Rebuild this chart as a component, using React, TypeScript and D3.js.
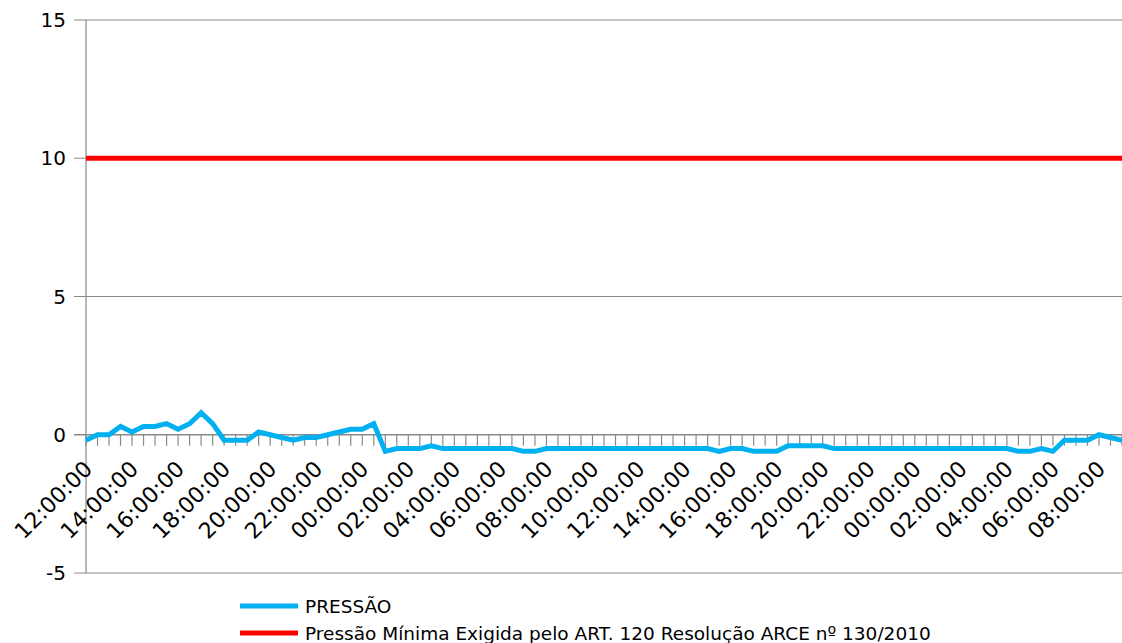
import React, { useEffect, useRef } from 'react'
import * as d3 from 'd3'

// pressure readings, one every 30 minutes starting at 12:00:00
const pressao = [
  -0.2, 0, 0, 0.3, 0.1, 0.3, 0.3, 0.4, 0.2, 0.4,
  0.8, 0.4, -0.2, -0.2, -0.2, 0.1, 0, -0.1, -0.2, -0.1,
  -0.1, 0, 0.1, 0.2, 0.2, 0.4, -0.6, -0.5, -0.5, -0.5,
  -0.4, -0.5, -0.5, -0.5, -0.5, -0.5, -0.5, -0.5, -0.6, -0.6,
  -0.5, -0.5, -0.5, -0.5, -0.5, -0.5, -0.5, -0.5, -0.5, -0.5,
  -0.5, -0.5, -0.5, -0.5, -0.5, -0.6, -0.5, -0.5, -0.6, -0.6,
  -0.6, -0.4, -0.4, -0.4, -0.4, -0.5, -0.5, -0.5, -0.5, -0.5,
  -0.5, -0.5, -0.5, -0.5, -0.5, -0.5, -0.5, -0.5, -0.5, -0.5,
  -0.5, -0.6, -0.6, -0.5, -0.6, -0.2, -0.2, -0.2, 0, -0.1,
  -0.2,
]

// minimum required pressure (constant reference line)
const pressaoMinima = 10

const tickLabels = [
  '12:00:00', '14:00:00', '16:00:00', '18:00:00', '20:00:00', '22:00:00',
  '00:00:00', '02:00:00', '04:00:00', '06:00:00', '08:00:00', '10:00:00',
  '12:00:00', '14:00:00', '16:00:00', '18:00:00', '20:00:00', '22:00:00',
  '00:00:00', '02:00:00', '04:00:00', '06:00:00', '08:00:00',
]
const labelEvery = 4

const yTicks = [-5, 0, 5, 10, 15]

const legendLabels = [
  'PRESSÃO',
  'Pressão Mínima Exigida pelo ART. 120 Resolução ARCE nº 130/2010',
]

const BLUE = '#00b0f0'
const RED = '#ff0000'
const GRID = '#898989'

function App() {
  const ref = useRef<SVGSVGElement>(null)

  useEffect(() => {
    const width = 1122
    const margin = { top: 20, left: 86, right: 0 }

    const svg = d3.select(ref.current)
    svg.selectAll('*').remove()

    const x = d3.scaleLinear()
      .domain([0, pressao.length - 1])
      .range([margin.left, width - margin.right])

    const y = d3.scaleLinear()
      .domain([-5, 15])
      .range([573, margin.top])

    const font = 'DejaVu Sans, sans-serif'

    // horizontal gridlines + y ticks
    svg.append('g')
      .selectAll('line')
      .data(yTicks)
      .join('line')
      .attr('x1', margin.left - 12)
      .attr('x2', width)
      .attr('y1', d => y(d))
      .attr('y2', d => y(d))
      .attr('stroke', GRID)
      .attr('stroke-width', d => d === 0 ? 1.6 : 1.2)

    svg.append('g')
      .selectAll('text')
      .data(yTicks)
      .join('text')
      .attr('x', 66)
      .attr('y', d => y(d))
      .attr('dy', '0.36em')
      .attr('text-anchor', 'end')
      .attr('font-family', font)
      .attr('font-size', 20)
      .attr('fill', '#000')
      .text(d => d)

    // y axis line
    svg.append('line')
      .attr('x1', margin.left)
      .attr('x2', margin.left)
      .attr('y1', y(15))
      .attr('y2', y(-5))
      .attr('stroke', GRID)
      .attr('stroke-width', 1.2)

    // x tick marks, one per reading
    svg.append('g')
      .selectAll('line')
      .data(pressao.map((_, i) => i))
      .join('line')
      .attr('x1', d => x(d))
      .attr('x2', d => x(d))
      .attr('y1', y(0))
      .attr('y2', y(0) + 11)
      .attr('stroke', GRID)
      .attr('stroke-width', 1.2)

    // x labels, every 2 hours
    svg.append('g')
      .selectAll('text')
      .data(tickLabels)
      .join('text')
      .attr('transform', (d, i) => `translate(${x(i * labelEvery) + 2},${y(0) + 30}) rotate(-45)`)
      .attr('dy', '0.36em')
      .attr('text-anchor', 'end')
      .attr('font-family', font)
      .attr('font-size', 22)
      .attr('fill', '#000')
      .text(d => d)

    // minimum pressure line
    svg.append('line')
      .attr('x1', x(0))
      .attr('x2', x(pressao.length - 1))
      .attr('y1', y(pressaoMinima))
      .attr('y2', y(pressaoMinima))
      .attr('stroke', RED)
      .attr('stroke-width', 5)

    const line = d3.line<number>()
      .x((d, i) => x(i))
      .y(d => y(d))

    svg.append('path')
      .datum(pressao)
      .attr('d', line)
      .attr('fill', 'none')
      .attr('stroke', BLUE)
      .attr('stroke-width', 5)
      .attr('stroke-linejoin', 'miter')

    // legend
    const legend = svg.append('g')
      .selectAll('g')
      .data(legendLabels)
      .join('g')
      .attr('transform', (d, i) => `translate(240,${606 + i * 27})`)

    legend.append('line')
      .attr('x1', 0)
      .attr('x2', 58)
      .attr('stroke', (d, i) => i === 0 ? BLUE : RED)
      .attr('stroke-width', 5)

    legend.append('text')
      .attr('x', 65)
      .attr('dy', '0.36em')
      .attr('font-family', font)
      .attr('font-size', 18.5)
      .attr('fill', '#000')
      .text(d => d)
  }, [])

  return (
    <svg ref={ref} width={1122} height={643}
      style={{ position: 'absolute', left: 0, top: 0, background: '#fff' }} />
  )
}

export default App
